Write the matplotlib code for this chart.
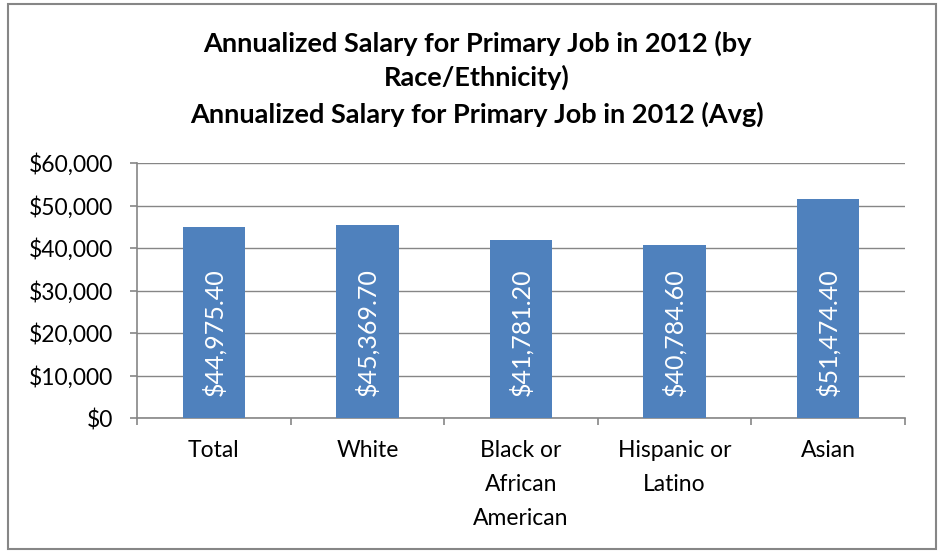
import matplotlib.pyplot as plt
from matplotlib.patches import Rectangle
from matplotlib.ticker import FuncFormatter, MultipleLocator

# chart data
categories = ["Total", "White", "Black or\nAfrican\nAmerican", "Hispanic or\nLatino", "Asian"]
salaries = [44975.40, 45369.70, 41781.20, 40784.60, 51474.40]
title_lines = ["Annualized Salary for Primary Job in 2012 (by",
               "Race/Ethnicity)",
               "Annualized Salary for Primary Job in 2012 (Avg)"]

bar_color = "#4F81BD"
grid_color = "#868686"
font = ["Lato", "DejaVu Sans"]
plt.rcParams['font.family'] = font

W, H = 938, 552
fig = plt.figure(figsize=(W / 100, H / 100), dpi=100)

# outer chart border
fig.patches.append(Rectangle((8 / W, 3 / H), 928 / W, 545 / H, transform=fig.transFigure,
                             fill=False, edgecolor=grid_color, linewidth=1.5))

ax = fig.add_axes([137 / W, 1 - 418 / H, 768 / W, 255 / H])

x = [i + 0.5 for i in range(len(categories))]
ax.bar(x, salaries, width=0.405, color=bar_color, zorder=3)

# value labels, rotated, sitting near the base of each bar
for xi, v in zip(x, salaries):
    ax.annotate("${:,.2f}".format(v), (xi, 0), xytext=(0, 16), textcoords="offset points",
                rotation=90, ha="center", va="bottom", color="white", fontsize=18, zorder=4)

ax.set_xlim(0, len(categories))
ax.set_ylim(0, 60000)
ax.yaxis.set_major_locator(MultipleLocator(10000))
ax.yaxis.set_major_formatter(FuncFormatter(lambda v, p: "${:,.0f}".format(v)))
ax.grid(axis="y", color=grid_color, linewidth=1, zorder=0)

# category boundaries as ticks, names at the centres
ax.set_xticks(range(len(categories) + 1))
ax.set_xticklabels([])
ax.set_xticks(x, minor=True)
ax.set_xticklabels(categories, minor=True, fontsize=16.5, linespacing=1.75)
ax.tick_params(axis="x", which="minor", length=0, pad=16)
ax.tick_params(axis="x", which="major", length=5, color=grid_color, width=1.2)
ax.tick_params(axis="y", length=5, color=grid_color, width=1.2, labelsize=16.5, pad=12)

for s in ["top", "right"]:
    ax.spines[s].set_visible(False)
for s in ["left", "bottom"]:
    ax.spines[s].set_color(grid_color)
    ax.spines[s].set_linewidth(1.2)

for yy, line in zip([43, 77, 114], title_lines):
    fig.text(477 / W, 1 - yy / H, line, ha="center", va="center",
             fontsize=19.5, fontweight="bold")

fig.savefig("out.png", dpi=100)
